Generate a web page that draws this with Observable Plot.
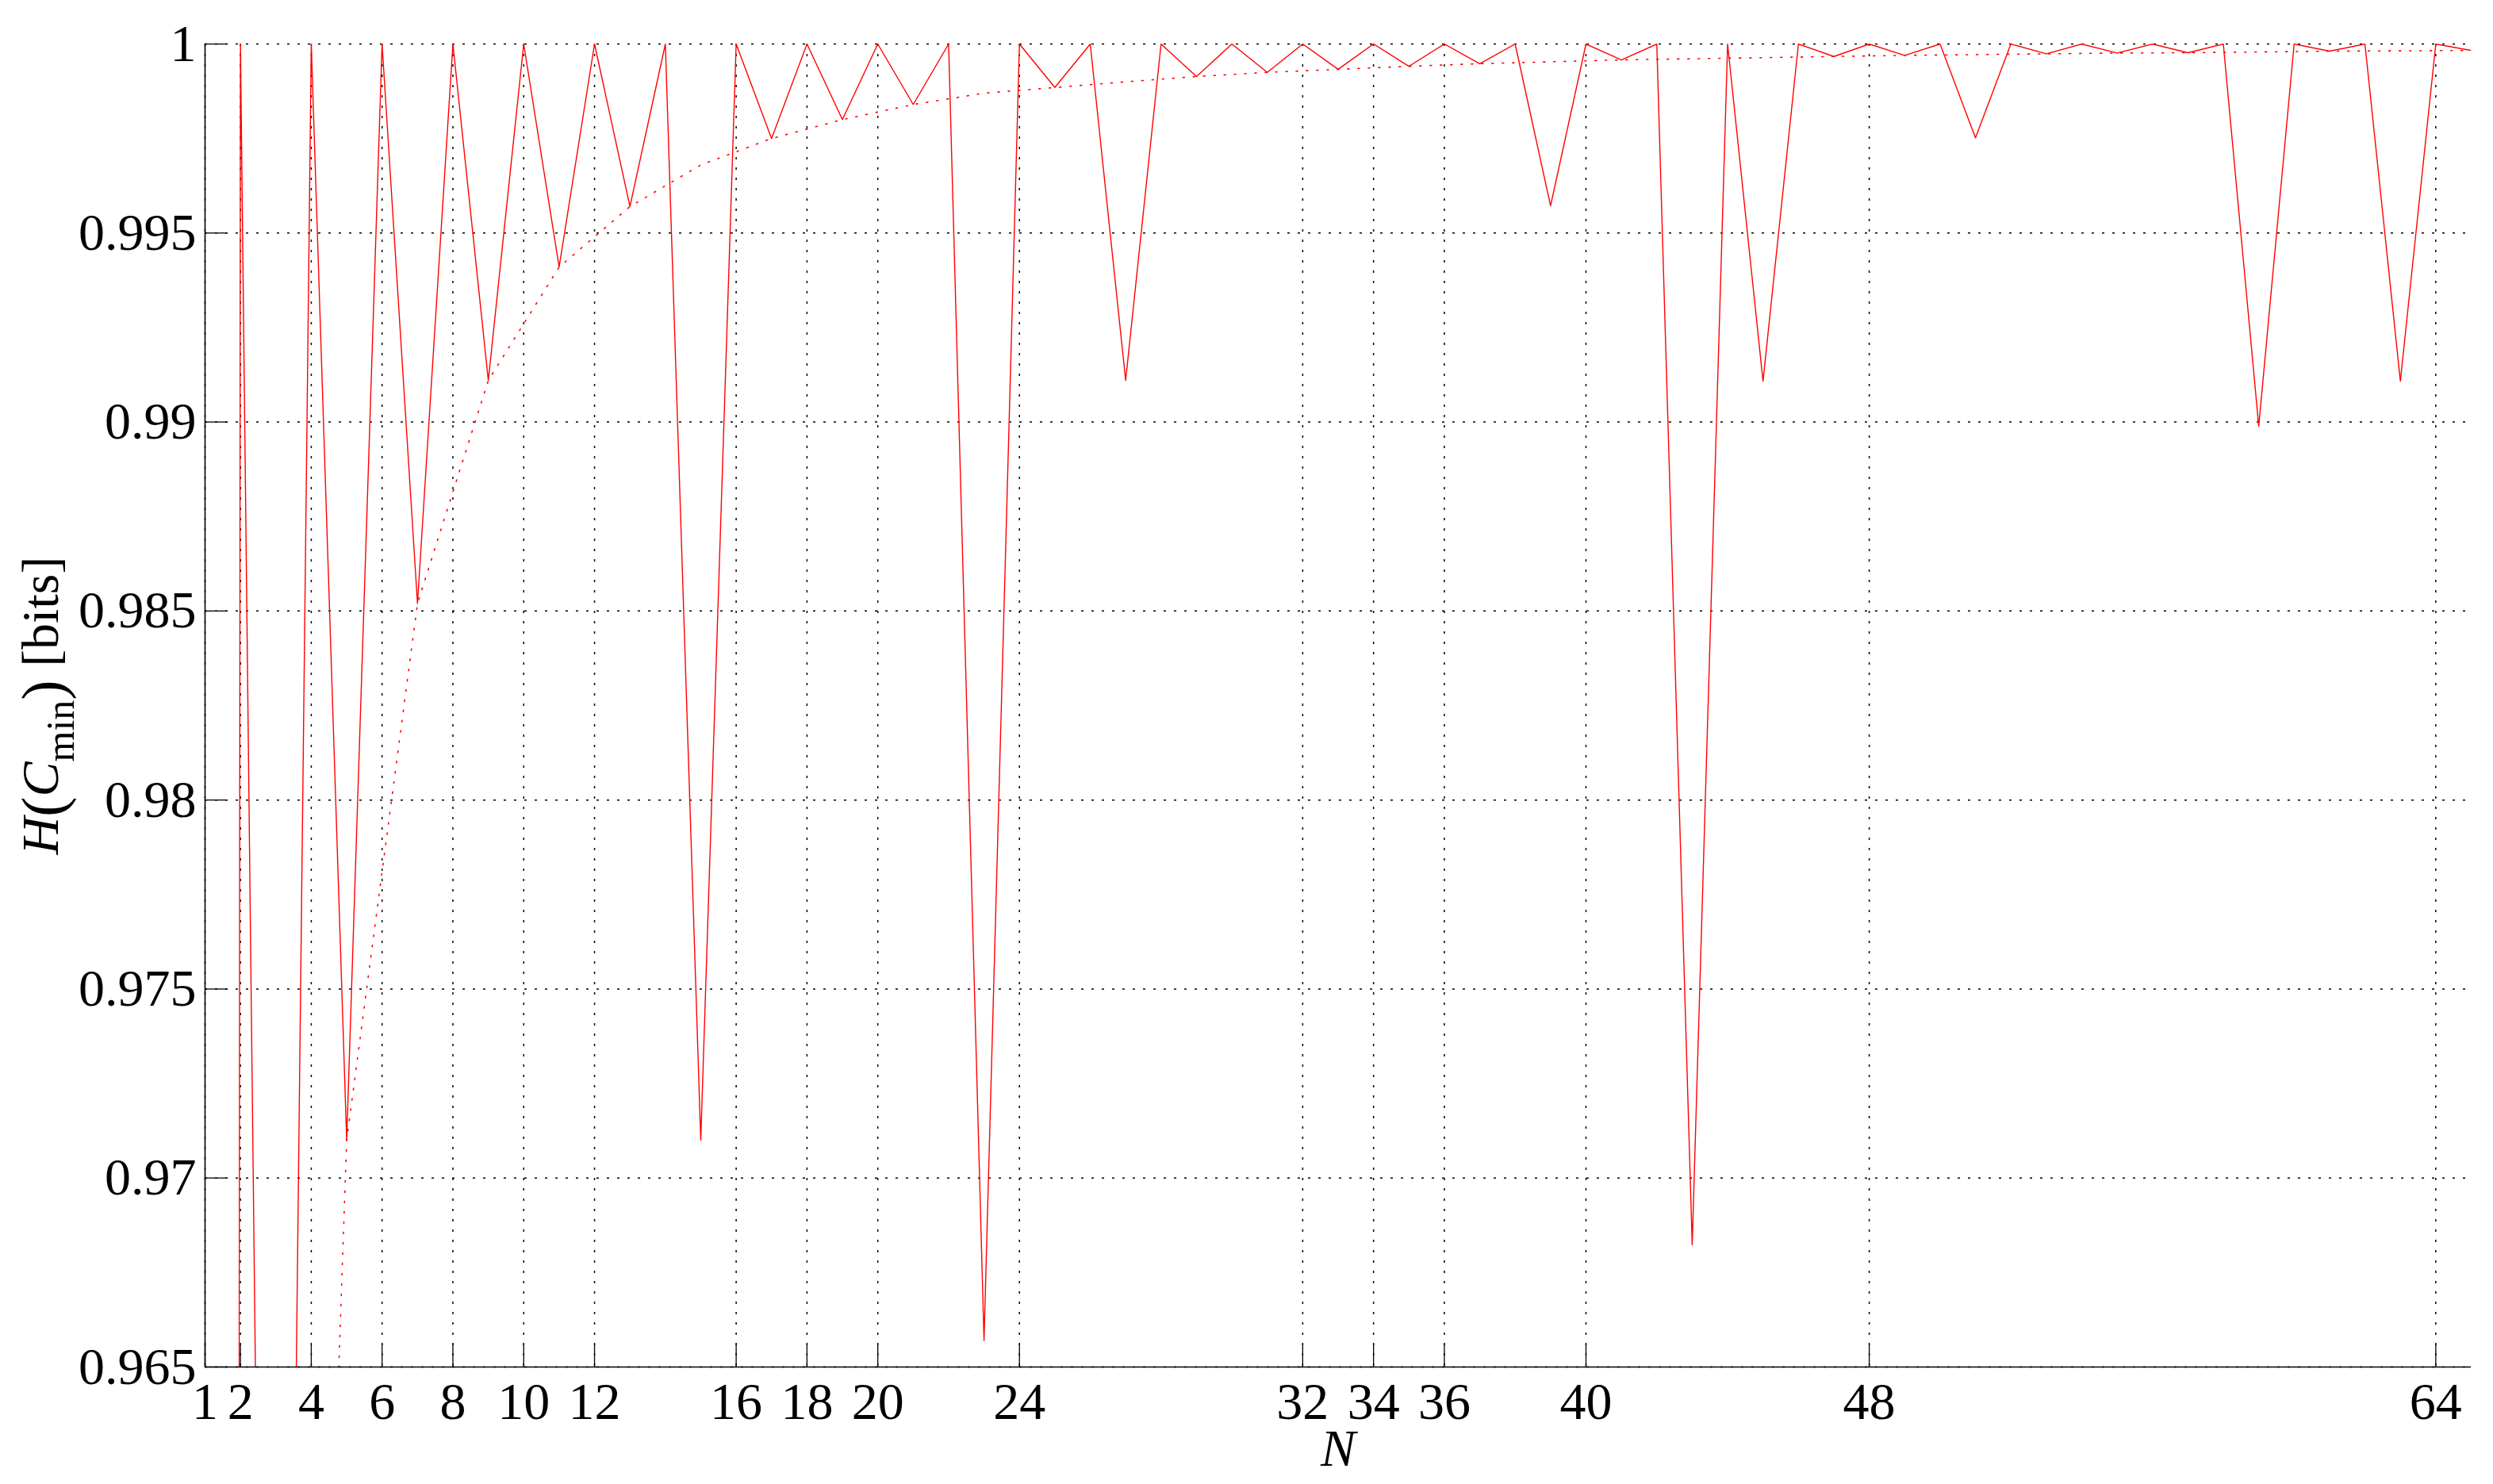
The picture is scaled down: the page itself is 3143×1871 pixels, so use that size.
<!DOCTYPE html>
<html>
<head>
<meta charset="utf-8">
<script src="https://cdn.jsdelivr.net/npm/d3@7"></script>
<script src="https://cdn.jsdelivr.net/npm/@observablehq/plot@0.6"></script>
<style>
  html, body { margin: 0; padding: 0; background: #fff; }
  svg { display: block; }
</style>
</head>
<body>
<div id="chart"></div>
<script>
// ---- data ----
const nValues = [1,2,3,4,5,6,7,8,9,10,11,12,13,14,15,16,17,18,19,20,21,22,23,24,25,26,27,28,29,30,31,32,33,34,35,36,37,38,39,40,41,42,43,44,45,46,47,48,49,50,51,52,53,54,55,56,57,58,59,60,61,62,63,64,65];
const entropyValues = [0,1,0.917,1,0.9710,1,0.9852,1,0.9911,1,0.9941,1,0.9957,1,0.9710,1,0.9975,1,0.9980,1,0.9984,1,0.9657,1,0.99885,1,0.9911,1,0.99914,1,0.99925,1,0.99933,1,0.99941,1,0.99948,1,0.99572,1,0.99958,1,0.96823,1,0.99108,1,0.99967,1,0.9997,1,0.99752,1,0.99974,1,0.99976,1,0.99977,1,0.98989,1,0.99981,1,0.99108,1,0.99983];

const boundN = [3,5,7,9,11,13,15,17,19,21,23,25,27,29,31,33,35,37,39,41,43,45,47,49,51,53,55,57,59,61,63,65];
const boundValues = [0.917,0.9710,0.9852,0.9911,0.9941,0.9957,0.9968,0.9975,0.9980,0.9984,0.9987,0.99885,0.99900,0.99914,0.99925,0.99933,0.99941,0.99948,0.99953,0.99958,0.99961,0.99964,0.99967,0.9997,0.99972,0.99974,0.99976,0.99977,0.99979,0.99981,0.99982,0.99983];

const xTickValues = [1,2,4,6,8,10,12,16,18,20,24,32,34,36,40,48,64];
const yTickValues = [0.965,0.97,0.975,0.98,0.985,0.99,0.995,1];
const xLabelText = "N";
const yLabelText = "H(Cmin) [bits]";

// ---- tables built from the arrays ----
const solidRows = nValues.map((n, i) => ({N: n, H: entropyValues[i]}));
const boundRows = boundN.map((n, i) => ({N: n, H: boundValues[i]}));

// ---- layout ----
const W = 3143, HT = 1871;
const mL = 258, mR = 28, mT = 55, mB = 148;
const innerW = W - mL - mR, innerH = HT - mT - mB;
const tickLen = 29;
const fontStack = "'Liberation Serif', 'Times New Roman', 'DejaVu Serif', serif";

const chart = Plot.plot({
  width: W,
  height: HT,
  marginLeft: mL,
  marginRight: mR,
  marginTop: mT,
  marginBottom: mB,
  style: {fontFamily: fontStack, fontSize: "66px", background: "#fff", color: "#000", overflow: "visible"},
  x: {type: "linear", domain: [1, 65]},
  y: {type: "linear", domain: [0.965, 1]},
  marks: [
    Plot.gridX(xTickValues, {stroke: "#000", strokeOpacity: 1, strokeWidth: 1.5, strokeDasharray: "3,10"}),
    Plot.gridY(yTickValues, {stroke: "#000", strokeOpacity: 1, strokeWidth: 1.5, strokeDasharray: "3,10"}),
    Plot.tickX(xTickValues, {x: d => d, stroke: "#000", strokeWidth: 1.3, insetTop: innerH - tickLen}),
    Plot.tickY(yTickValues, {y: d => d, stroke: "#000", strokeWidth: 1.3, insetRight: innerW - tickLen}),
    Plot.line(boundRows, {x: "N", y: "H", stroke: "#ff0000", strokeWidth: 1.6, strokeDasharray: "2,11", clip: true}),
    Plot.line(solidRows, {x: "N", y: "H", stroke: "#ff0000", strokeWidth: 1.4, clip: true}),
    Plot.ruleX([1], {stroke: "#000", strokeWidth: 1.6}),
    Plot.ruleY([0.965], {stroke: "#000", strokeWidth: 1.6}),
    Plot.axisX(xTickValues, {tickSize: 0, tickPadding: 19, tickFormat: d => String(d), label: null, fontSize: 66}),
    Plot.axisY(yTickValues, {tickSize: 0, tickPadding: 11, tickFormat: d => String(+d.toFixed(3)), label: null, fontSize: 66}),
    Plot.text([xLabelText], {text: d => d, frameAnchor: "bottom", dy: 124, lineAnchor: "bottom", textAnchor: "middle", fontStyle: "italic", fontSize: 66}),
    Plot.text([yLabelText], {text: d => d, frameAnchor: "left", dx: -186, rotate: -90, lineAnchor: "bottom", textAnchor: "middle", fontSize: 66})
  ]
});

document.getElementById("chart").appendChild(chart);

// rich formatting of the y label: italic H and C, subscript "min", tall parentheses
d3.select(chart).selectAll("text")
  .filter(function() { return this.textContent === yLabelText; })
  .each(function() {
    const t = d3.select(this);
    t.text(null);
    t.append("tspan").attr("font-style", "italic").text("H");
    t.append("tspan").attr("font-size", "76px").attr("dy", "7").text("(");
    t.append("tspan").attr("font-style", "italic").attr("dy", "-7").text("C");
    t.append("tspan").attr("font-size", "50px").attr("dy", "20").text("min");
    t.append("tspan").attr("font-size", "76px").attr("dy", "-13").text(")");
    t.append("tspan").attr("dy", "-7").text(" [bits]");
  });
</script>
</body>
</html>
